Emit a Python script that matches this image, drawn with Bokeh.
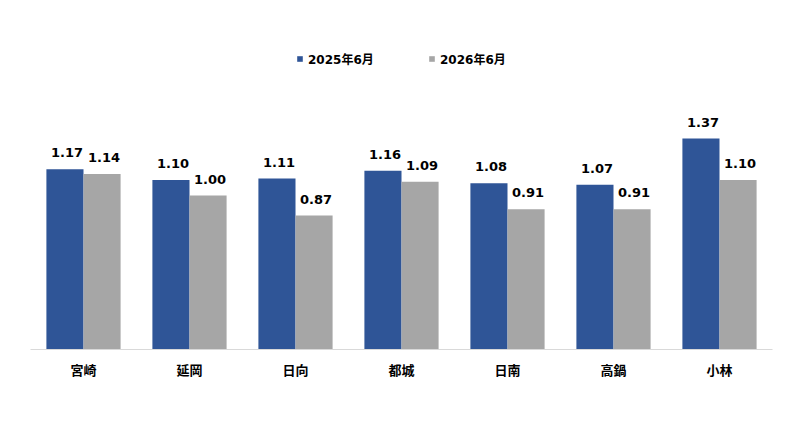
from bokeh.plotting import figure
from bokeh.models import FactorRange, ColumnDataSource, Legend, LegendItem
from bokeh.transform import dodge
from bokeh.core.properties import value
from bokeh.embed import file_html
from bokeh.resources import INLINE

categories = ["宮崎", "延岡", "日向", "都城", "日南", "高鍋", "小林"]
series_names = ["2025年6月", "2026年6月"]
values_2025 = [1.17, 1.10, 1.11, 1.16, 1.08, 1.07, 1.37]
values_2026 = [1.14, 1.00, 0.87, 1.09, 0.91, 0.91, 1.10]

BLUE = "#2F5597"
GRAY = "#A6A6A6"
NUM_FONT = "DejaVu Sans, Noto Sans CJK JP"
JP_FONT = "Noto Sans CJK JP"

src = ColumnDataSource(dict(
    cat=categories,
    v1=values_2025,
    v2=values_2026,
    l1=[f"{v:.2f}" for v in values_2025],
    l2=[f"{v:.2f}" for v in values_2026],
))

p = figure(width=784, height=419, x_range=FactorRange(factors=categories),
           y_range=(0, 2.0), output_backend="svg", toolbar_location=None,
           min_border_left=30, min_border_right=12, min_border_top=41,
           min_border_bottom=70)
p.outline_line_color = None
p.grid.visible = False
p.yaxis.visible = False
p.background_fill_color = "white"

r1 = p.vbar(x=dodge("cat", -0.175, range=p.x_range), top="v1", width=0.35,
            source=src, fill_color=BLUE, line_color=None)
r2 = p.vbar(x=dodge("cat", 0.175, range=p.x_range), top="v2", width=0.35,
            source=src, fill_color=GRAY, line_color=None)

for col, lab, off in (("v1", "l1", -0.175), ("v2", "l2", 0.175)):
    p.text(x=dodge("cat", off, range=p.x_range), y=col, text=lab, source=src,
           text_align="center", text_baseline="bottom", x_offset=2, y_offset=-12,
           text_font=value(NUM_FONT), text_font_style="bold",
           text_font_size="13px", text_color="#000000")

xa = p.xaxis[0]
xa.axis_line_color = "#D9D9D9"
xa.major_tick_line_color = None
xa.minor_tick_line_color = None
xa.major_label_standoff = 4
xa.major_label_text_font = JP_FONT
xa.major_label_text_font_style = "bold"
xa.major_label_text_font_size = "13px"
xa.major_label_text_color = "#000000"

for r, name, xloc in ((r1, series_names[0], 266), (r2, series_names[1], 398)):
    lg = Legend(items=[LegendItem(label=name, renderers=[r])],
                location=(xloc, 282), padding=0, margin=0,
                border_line_color=None, background_fill_alpha=0,
                glyph_width=7, glyph_height=7, label_standoff=5,
                label_text_font=NUM_FONT, label_text_font_style="bold",
                label_text_font_size="12px", label_text_color="#000000")
    p.add_layout(lg, "center")

open("out.html", "w").write(file_html(p, INLINE))
